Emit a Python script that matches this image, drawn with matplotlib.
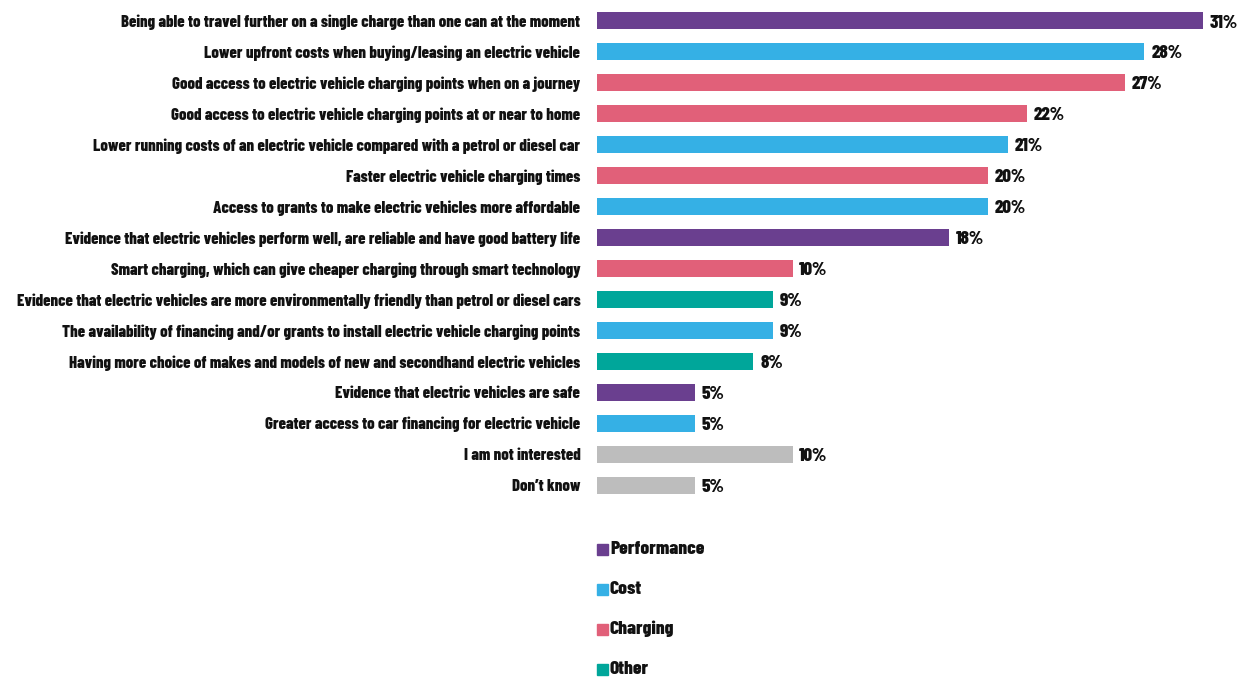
import matplotlib.pyplot as plt
from matplotlib.patches import Rectangle

plt.rcParams['font.family'] = ['Barlow Condensed', 'DejaVu Sans']

labels = [
    "Being able to travel further on a single charge than one can at the moment",
    "Lower upfront costs when buying/leasing an electric vehicle",
    "Good access to electric vehicle charging points when on a journey",
    "Good access to electric vehicle charging points at or near to home",
    "Lower running costs of an electric vehicle compared with a petrol or diesel car",
    "Faster electric vehicle charging times",
    "Access to grants to make electric vehicles more affordable",
    "Evidence that electric vehicles perform well, are reliable and have good battery life",
    "Smart charging, which can give cheaper charging through smart technology",
    "Evidence that electric vehicles are more environmentally friendly than petrol or diesel cars",
    "The availability of financing and/or grants to install electric vehicle charging points",
    "Having more choice of makes and models of new and secondhand electric vehicles",
    "Evidence that electric vehicles are safe",
    "Greater access to car financing for electric vehicle",
    "I am not interested",
    "Don\u2019t know",
]
values = [31, 28, 27, 22, 21, 20, 20, 18, 10, 9, 9, 8, 5, 5, 10, 5]
groups = ["Performance", "Cost", "Charging", "Charging", "Cost", "Charging", "Cost",
          "Performance", "Charging", "Other", "Cost", "Other", "Performance", "Cost",
          "None", "None"]

colors = {
    "Performance": "#6A3F8F",
    "Cost": "#35B0E5",
    "Charging": "#E16079",
    "Other": "#00A69A",
    "None": "#BDBDBD",
}
legend_groups = ["Performance", "Cost", "Charging", "Other"]

fig = plt.figure(figsize=(12.45, 6.79), dpi=100)
ax = fig.add_axes([597 / 1245, 1 - 500.5 / 679, 648 / 1245, 495 / 679])

y = list(range(len(labels)))
ax.barh(y, values, height=0.55, color=[colors[g] for g in groups])
for yi, v in zip(y, values):
    ax.text(v + 0.35, yi + 0.05, f"{v}%", va='center', ha='left',
            fontsize=13.5, fontweight=800, color='#111111')

ax.set_xlim(0, 648 / 19.55)
ax.set_ylim(len(labels) - 0.5, -0.5)
ax.set_yticks(y)
ax.set_yticklabels(labels, fontsize=12, fontweight=800, color='#111111')
ax.tick_params(axis='y', length=0, pad=12)
ax.set_xticks([])
for s in ax.spines.values():
    s.set_visible(False)

# legend drawn as small squares with text below the bars
for i, g in enumerate(legend_groups):
    yc = 1 - (549 + 40 * i) / 679
    fig.patches.append(Rectangle((597 / 1245, yc - 6 / 679), 11 / 1245, 11 / 679,
                                 transform=fig.transFigure, color=colors[g]))
    fig.text(610 / 1245, yc, g, va='center', ha='left', fontsize=14,
             fontweight=800, color='#111111')

fig.savefig('out.png', dpi=100)
